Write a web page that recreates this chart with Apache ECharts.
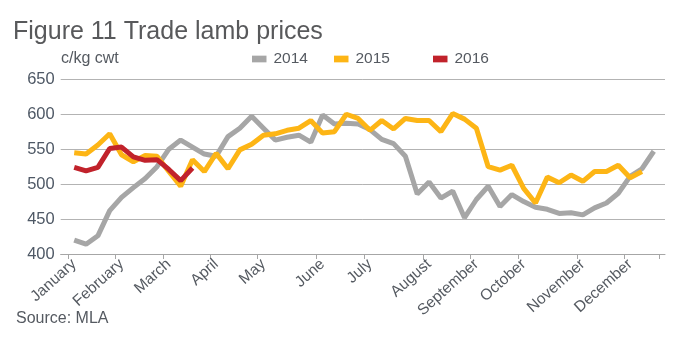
<!DOCTYPE html>
<html><head><meta charset="utf-8">
<script src="https://cdn.jsdelivr.net/npm/echarts@6/dist/echarts.min.js"></script>
<style>html,body{margin:0;padding:0;background:#fff}#c{width:684px;height:341px}</style>
</head><body><div id="c"></div>
<script>
// ---- data ----
const weekCount = 50;
const monthLabels = ['January','February','March','April','May','June','July','August','September','October','November','December'];
const monthWeekIndex = [0,4,8,12,16,21,25,30,34,38,43,47];
const yMin = 400, yMax = 650, yStep = 50;
const seriesNames = ['2014','2015','2016'];
const prices2014 = [420,414,426,462,481,495,508,525,550,563,553,543,540,568,580,597,580,563,567,570,560,599,586,587,586,578,564,558,540,486,503,480,490,452,478,497,468,485,475,467,464,458,459,456,466,473,487,511,522,547];
const prices2015 = [545,543,556,572,542,532,541,540,518,497,535,518,544,522,549,557,570,572,577,580,591,573,575,600,594,577,591,579,594,591,591,575,601,593,580,525,520,527,494,473,510,502,513,504,518,518,527,509,518];
const prices2016 = [524,519,524,551,553,539,534,535,521,505,523];
const colors = ['#a6a6a6','#fdb515','#c1222b'];

const weeks = Array.from({length: weekCount}, (_, i) => String(i + 1));
const seriesData = [prices2014, prices2015, prices2016];

const textColor = '#555a61';
const font = 'Liberation Sans, Arial, sans-serif';
const chart = echarts.init(document.getElementById('c'));
const legendLefts = [252, 334, 433];

chart.setOption({
  animation: false,
  title: [
    {text: 'Figure 11 Trade lamb prices', left: 13, top: 20, padding: 0, textStyle: {fontFamily: font, fontSize: 25, fontWeight: 'normal', color: '#58595b'}},
    {text: 'c/kg cwt', left: 61, top: 51, padding: 0, textStyle: {fontFamily: font, fontSize: 16, fontWeight: 'normal', color: textColor}},
    {text: 'Source: MLA', left: 16, top: 311, padding: 0, textStyle: {fontFamily: font, fontSize: 16, fontWeight: 'normal', color: textColor}}
  ],
  legend: seriesNames.map((n, i) => ({
    data: [n], left: legendLefts[i], top: 51, padding: 0, icon: 'rect', itemWidth: 14.5, itemHeight: 6.7,
    textStyle: {fontFamily: font, fontSize: 15.5, color: textColor, padding: [0,0,0,2]},
    selectedMode: false
  })),
  grid: [
    {left: 68.3, right: 684 - 659.7, top: 79.3, bottom: 87},
    {left: 60.7, right: 19, top: 79.3, bottom: 87}
  ],
  xAxis: [
    {type: 'category', gridIndex: 0, data: weeks, boundaryGap: true,
     axisLine: {show: false},
     axisTick: {show: true, length: 5, lineStyle: {color: '#a6a6a6', width: 1}},
     axisLabel: {interval: (idx) => monthWeekIndex.indexOf(idx) >= 0,
                 formatter: (v, idx) => { const m = monthWeekIndex.indexOf(idx); return m >= 0 ? monthLabels[m] : ''; },
                 rotate: 42, margin: 8, fontFamily: font, fontSize: 15.5, color: textColor},
     splitLine: {show: false}},
    {type: 'value', gridIndex: 1, min: 0, max: 1, axisLine: {show: true, onZero: false, lineStyle: {color: '#a6a6a6', width: 1}},
     axisTick: {show: false}, axisLabel: {show: false}, splitLine: {show: false}}
  ],
  yAxis: [
    {type: 'value', gridIndex: 0, min: yMin, max: yMax, interval: yStep, show: false},
    {type: 'value', gridIndex: 1, min: yMin, max: yMax, interval: yStep,
     axisLine: {show: false}, axisTick: {show: false},
     axisLabel: {margin: 6, fontFamily: font, fontSize: 16.5, color: '#4e5865'},
     splitLine: {show: true, lineStyle: {color: '#b3b3b3', width: 1}}}
  ],
  series: seriesNames.map((n, i) => ({
    name: n, type: 'line', xAxisIndex: 0, yAxisIndex: 0, data: seriesData[i],
    symbol: 'none', lineStyle: {width: 5, color: colors[i]}, itemStyle: {color: colors[i]},
    z: 2 + i
  }))
});
</script>
</body></html>
